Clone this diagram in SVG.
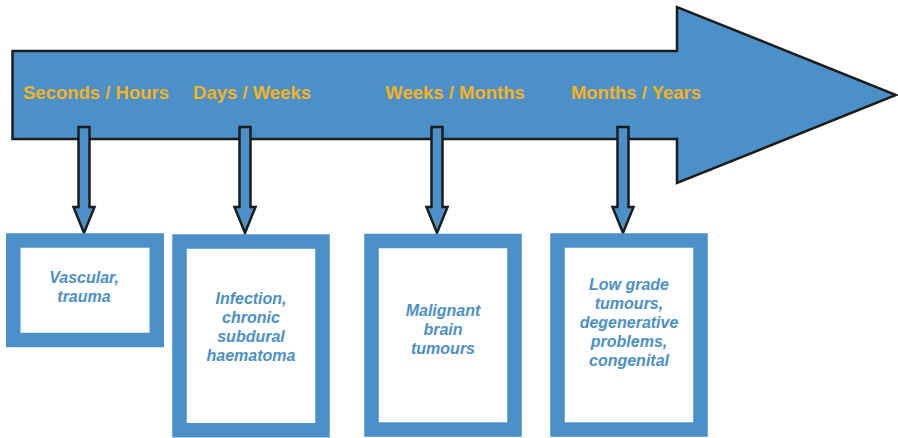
<svg xmlns="http://www.w3.org/2000/svg" width="898" height="438" viewBox="0 0 898 438">
<style>
.arr{fill:#4b90c8;stroke:#1c1c1c;stroke-width:2.5;stroke-linejoin:miter}
.box{fill:#ffffff;stroke:#4b90c8;stroke-width:14.5}
.hdr{font-family:"Liberation Sans",Arial,sans-serif;font-weight:bold;font-size:18.5px;fill:#f4b223;text-anchor:middle}
.lbl{font-family:"Liberation Sans",Arial,sans-serif;font-weight:bold;font-style:italic;font-size:16px;fill:#4b90c8;text-anchor:middle}
</style>
<rect width="898" height="438" fill="#ffffff"/>
<g id="timeline">
<path class="arr" d="M12.5,51 H677 V7 L896,95 L677,183 V139 H12.5 Z"/>
<text class="hdr" x="96" y="99">Seconds / Hours</text>
<text class="hdr" x="252" y="99">Days / Weeks</text>
<text class="hdr" x="455" y="99">Weeks / Months</text>
<text class="hdr" x="636" y="99">Months / Years</text>
</g>
<g id="connectors">
<path class="arr" d="M78.5,127 H89.5 V207 H94.5 L84,233 L73.5,207 H78.5 Z"/>
<path class="arr" d="M239.5,127 H250.5 V207 H255.5 L245,233 L234.5,207 H239.5 Z"/>
<path class="arr" d="M431.5,127 H442.5 V207 H447.5 L437,233 L426.5,207 H431.5 Z"/>
<path class="arr" d="M617.5,127 H628.5 V207 H633.5 L623,233 L612.5,207 H617.5 Z"/>
</g>
<g id="box1">
<rect class="box" x="13.25" y="240.5" width="143.5" height="99.5"/>
<text class="lbl" x="84" y="283">Vascular,</text>
<text class="lbl" x="84" y="302">trauma</text>
</g>
<g id="box2">
<rect class="box" x="179.5" y="241.5" width="143" height="188.75"/>
<text class="lbl" x="251" y="304">Infection,</text>
<text class="lbl" x="251" y="323">chronic</text>
<text class="lbl" x="251" y="342">subdural</text>
<text class="lbl" x="251" y="361">haematoma</text>
</g>
<g id="box3">
<rect class="box" x="371.5" y="241" width="143" height="188.5"/>
<text class="lbl" x="443" y="316">Malignant</text>
<text class="lbl" x="443" y="335">brain</text>
<text class="lbl" x="443" y="354">tumours</text>
</g>
<g id="box4">
<rect class="box" x="557.5" y="240.5" width="143" height="189"/>
<text class="lbl" x="629" y="290">Low grade</text>
<text class="lbl" x="629" y="309">tumours,</text>
<text class="lbl" x="629" y="328">degenerative</text>
<text class="lbl" x="629" y="347">problems,</text>
<text class="lbl" x="629" y="366">congenital</text>
</g>
</svg>
